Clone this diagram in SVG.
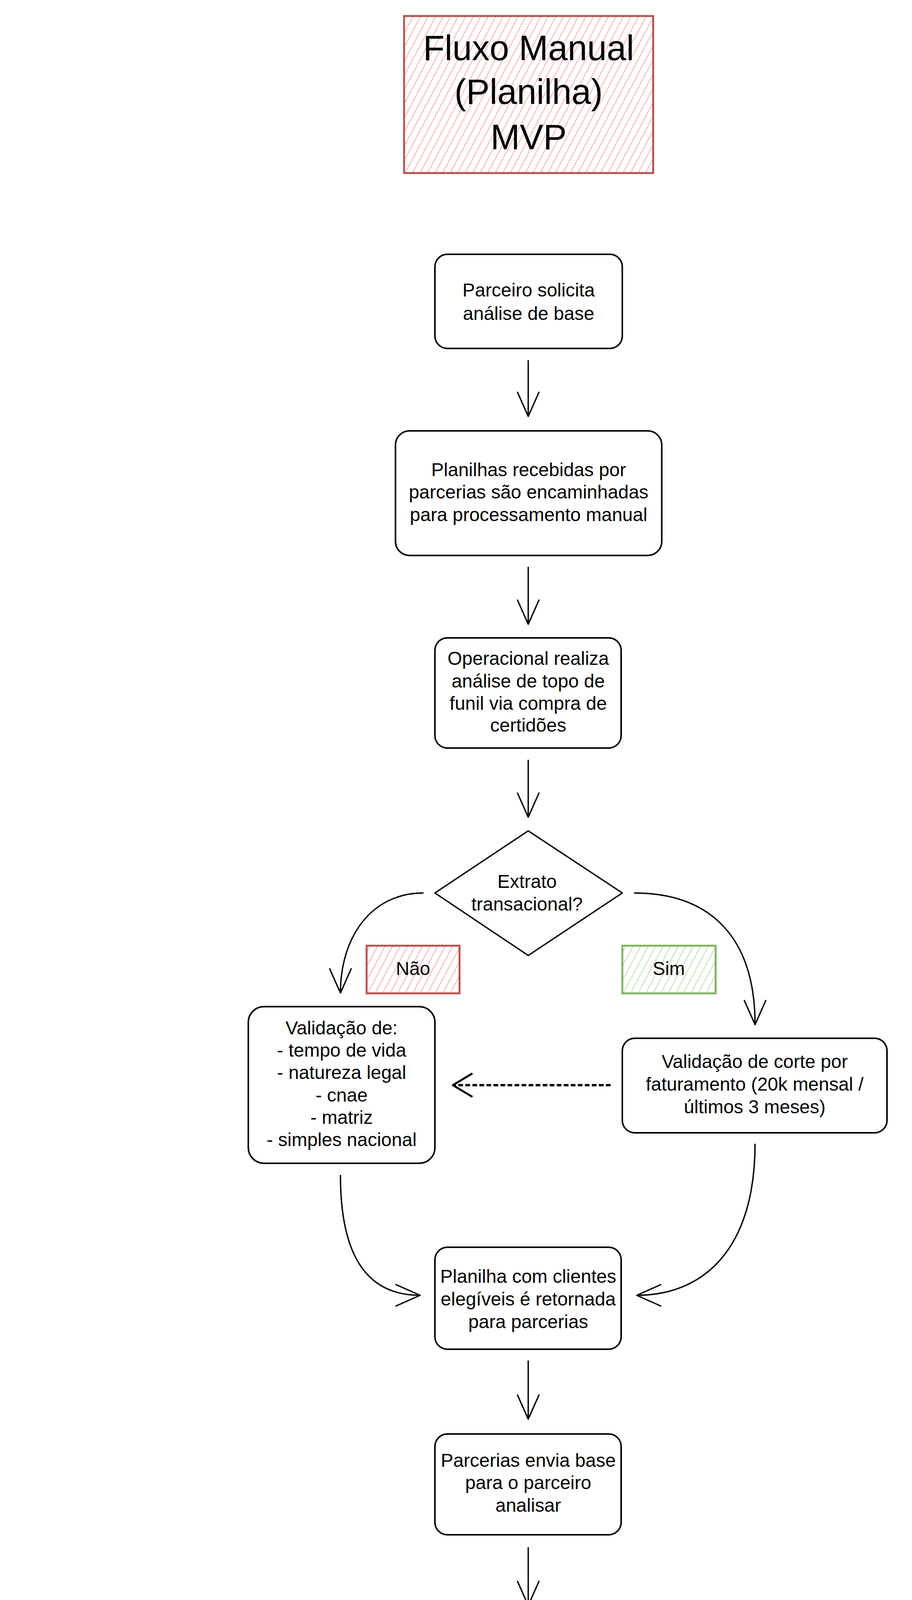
<svg xmlns="http://www.w3.org/2000/svg" width="2336" height="7904" viewBox="0 0 2336 7904">
<style>
.box{fill:#fff;stroke:#000;stroke-width:4;stroke-linejoin:round}
.dia{fill:#fff;stroke:#000;stroke-width:3.5;stroke-linejoin:round}
.t{font-family:"Liberation Sans",Arial,sans-serif;font-size:48px;text-anchor:middle;dominant-baseline:central;fill:#000}
.title{font-size:90px}
.edge{fill:none;stroke:#000;stroke-width:3.5;marker-end:url(#open)}
.dash{fill:none;stroke:#000;stroke-width:6;stroke-dasharray:12 6;marker-end:url(#openb)}
.no{fill:url(#hRed);stroke:#b85450;stroke-width:5}
.yes{fill:url(#hGreen);stroke:#82b366;stroke-width:5}
</style>
<defs>
<pattern id="hRed" patternUnits="userSpaceOnUse" width="17" height="17" patternTransform="rotate(28)">
<rect width="17" height="17" fill="#fff"/>
<line x1="2" y1="0" x2="2" y2="17" stroke="#f5bcb9" stroke-width="2.5"/>
</pattern>
<pattern id="hGreen" patternUnits="userSpaceOnUse" width="17" height="17" patternTransform="rotate(28)">
<rect width="17" height="17" fill="#fff"/>
<line x1="2" y1="0" x2="2" y2="17" stroke="#c4e2bb" stroke-width="2.5"/>
</pattern>
<marker id="open" viewBox="-70 -35 76 70" refX="0" refY="0" markerWidth="76" markerHeight="70" markerUnits="userSpaceOnUse" orient="auto">
<path d="M-63,-28 L0,0 L-63,28" fill="none" stroke="#000" stroke-width="3.5" stroke-linejoin="round"/>
</marker>
<marker id="openb" viewBox="-70 -35 76 70" refX="0" refY="0" markerWidth="76" markerHeight="70" markerUnits="userSpaceOnUse" orient="auto">
<path d="M-50,-30 L0,0 L-50,30" fill="none" stroke="#000" stroke-width="5" stroke-linejoin="round"/>
</marker>
</defs>
<rect width="2336" height="7904" fill="#fff"/>

<g id="connectors">
<path class="edge" d="M1353,922 L1353,1066"/>
<path class="edge" d="M1353,1451 L1353,1598"/>
<path class="edge" d="M1353,1945 L1353,2092"/>
<path class="edge" d="M1085,2286 C950,2286 872,2400 872,2542"/>
<path class="edge" d="M1624,2286 C1820,2286 1934,2400 1934,2623"/>
<path class="dash" d="M1564,2778 L1160,2778"/>
<path class="edge" d="M872,3008 C872,3200 930,3316 1076,3316"/>
<path class="edge" d="M1934,2928 C1934,3200 1800,3316 1631,3316"/>
<path class="edge" d="M1353,3483 L1353,3633"/>
<path class="edge" d="M1353,3961 L1353,4110"/>
<path class="edge" d="M1085,4305 C880,4305 764,4450 764,4645"/>
<path class="edge" d="M1624,4305 C1830,4305 1941,4450 1941,4645"/>
<path class="edge" d="M764,5073 L764,5231"/>
<path class="edge" d="M1941,5073 L1941,5254"/>
<path class="edge" d="M1035,5425 L1567,5425"/>
<path class="edge" d="M492,5425 C380,5425 286,5580 286,5754"/>
<path class="edge" d="M1944,5591 L1944,5778"/>
<path class="edge" d="M1673,5934 C1450,5934 1353,6050 1353,6271"/>
<path class="edge" d="M1162,6466 C960,6466 764,6580 764,6803"/>
<path class="edge" d="M1545,6466 C1760,6466 1944,6580 1944,6803"/>
<path class="edge" d="M764,7068 L764,7215"/>
<path class="edge" d="M1944,7068 L1944,7215"/>
<path class="edge" d="M764,7479 L764,7627"/>
<path class="edge" d="M1944,7479 L1944,7627"/>
</g>

<g id="title">
<rect x="1035" y="41" width="638" height="402" fill="url(#hRed)" stroke="#b85450" stroke-width="5"/>
<text class="t title" x="1354" y="123">Fluxo Manual</text>
<text class="t title" x="1354" y="235">(Planilha)</text>
<text class="t title" x="1354" y="351">MVP</text>
</g>

<g id="n1">
<rect class="box" x="1114" y="651" width="480" height="241" rx="32"/>
<text class="t" x="1354" y="742">Parceiro solicita</text>
<text class="t" x="1354" y="802">análise de base</text>
</g>

<g id="n2">
<rect class="box" x="1013" y="1103" width="682" height="319" rx="36"/>
<text class="t" x="1354" y="1202">Planilhas recebidas por</text>
<text class="t" x="1354" y="1259">parcerias são encaminhadas</text>
<text class="t" x="1354" y="1317">para processamento manual</text>
</g>

<g id="n3">
<rect class="box" x="1114" y="1633" width="477" height="282" rx="32"/>
<text class="t" x="1353" y="1685">Operacional realiza</text>
<text class="t" x="1353" y="1743">análise de topo de</text>
<text class="t" x="1353" y="1800">funil via compra de</text>
<text class="t" x="1353" y="1856">certidões</text>
</g>

<g id="d1">
<polygon class="dia" points="1353,2127 1594,2286 1353,2446 1114,2286"/>
<text class="t" x="1350" y="2256">Extrato</text>
<text class="t" x="1350" y="2314">transacional?</text>
</g>
<g id="l1no">
<rect class="no" x="939" y="2421" width="238" height="122"/>
<text class="t" x="1058" y="2479">Não</text>
</g>
<g id="l1yes">
<rect class="yes" x="1594" y="2421" width="239" height="122"/>
<text class="t" x="1713" y="2479">Sim</text>
</g>

<g id="n4">
<rect class="box" x="636" y="2577" width="478" height="401" rx="40"/>
<text class="t" x="875" y="2631">Validação de:</text>
<text class="t" x="875" y="2688">- tempo de vida</text>
<text class="t" x="875" y="2745">- natureza legal</text>
<text class="t" x="875" y="2803">- cnae</text>
<text class="t" x="875" y="2860">- matriz</text>
<text class="t" x="875" y="2917">- simples nacional</text>
</g>

<g id="n5">
<rect class="box" x="1594" y="2658" width="678" height="242" rx="32"/>
<text class="t" x="1933" y="2717">Validação de corte por</text>
<text class="t" x="1933" y="2775">faturamento (20k mensal /</text>
<text class="t" x="1933" y="2833">últimos 3 meses)</text>
</g>

<g id="n6">
<rect class="box" x="1114" y="3193" width="477" height="261" rx="32"/>
<text class="t" x="1353" y="3267">Planilha com clientes</text>
<text class="t" x="1353" y="3325">elegíveis é retornada</text>
<text class="t" x="1353" y="3383">para parcerias</text>
</g>

<g id="n7">
<rect class="box" x="1114" y="3671" width="477" height="258" rx="32"/>
<text class="t" x="1353" y="3738">Parcerias envia base</text>
<text class="t" x="1353" y="3795">para o parceiro</text>
<text class="t" x="1353" y="3853">analisar</text>
</g>

<g id="d2">
<polygon class="dia" points="1353,4146 1594,4305 1353,4467 1114,4305"/>
<text class="t" x="1350" y="4301">De acordo?</text>
</g>
<g id="l2no">
<rect class="no" x="875" y="4409" width="239" height="122"/>
<text class="t" x="994" y="4470">Não</text>
</g>
<g id="l2yes">
<rect class="yes" x="1594" y="4409" width="239" height="122"/>
<text class="t" x="1713" y="4470">Sim</text>
</g>

<g id="n8">
<rect class="box" x="414" y="4682" width="700" height="360" rx="40"/>
<text class="t" x="764" y="4802">Revisar qualidade da base</text>
<text class="t" x="764" y="4860">analisada e validações</text>
<text class="t" x="764" y="4919">realizadas nas consultas</text>
</g>

<g id="n9">
<rect class="box" x="1594" y="4682" width="700" height="360" rx="40"/>
<text class="t" x="1944" y="4746">Envio de ação segmentada</text>
<text class="t" x="1944" y="4802" xml:space="preserve">para base analisada a fim  de</text>
<text class="t" x="1944" y="4859">converter propostas</text>
<text class="t" x="1944" y="4917">indicativas em leads</text>
<text class="t" x="1944" y="4973">interessados</text>
</g>

<g id="d3">
<polygon class="dia" points="764,5266 1003,5425 764,5586 524,5425"/>
<text class="t" x="760" y="5422">Solucionado?</text>
</g>
<g id="l3yes">
<rect class="yes" x="1013" y="5265" width="241" height="122"/>
<text class="t" x="1133" y="5326">Sim</text>
</g>
<g id="l3no">
<rect class="no" x="355" y="5585" width="238" height="121"/>
<text class="t" x="474" y="5645">Não</text>
</g>

<g id="n10">
<rect class="box" x="1605" y="5290" width="679" height="271" rx="36"/>
<text class="t" x="1944" y="5339">Pricing converte propostas</text>
<text class="t" x="1944" y="5397">indicativas em propostas</text>
<text class="t" x="1944" y="5454">firmes para os leads</text>
<text class="t" x="1944" y="5510">interessados</text>
</g>

<g id="n11">
<rect class="box" x="45" y="5789" width="479" height="142" rx="24"/>
<text class="t" x="284" y="5857">Revisar parceria</text>
</g>

<g id="n12">
<rect class="box" x="1706" y="5815" width="477" height="240" rx="32"/>
<text class="t" x="1944" y="5872">Mesa de Crédito</text>
<text class="t" x="1944" y="5929">valida proposta</text>
<text class="t" x="1944" y="5989">gerada</text>
</g>

<g id="d4">
<polygon class="dia" points="1353,6306 1514,6466 1353,6627 1195,6466"/>
<text class="t" x="1353" y="6461">Aprovada?</text>
</g>
<g id="l4no">
<rect class="no" x="955" y="6531" width="240" height="125"/>
<text class="t" x="1075" y="6590">Não</text>
</g>
<g id="l4yes">
<rect class="yes" x="1514" y="6531" width="241" height="125"/>
<text class="t" x="1634" y="6590">Sim</text>
</g>

<g id="n13">
<rect class="box" x="524" y="6836" width="479" height="202" rx="30"/>
<text class="t" x="764" y="6906">Exibição de negativa</text>
<text class="t" x="764" y="6967">ao cliente</text>
</g>

<g id="n14">
<rect class="box" x="1706" y="6836" width="477" height="202" rx="30"/>
<text class="t" x="1944" y="6906">Exibição de proposta</text>
<text class="t" x="1944" y="6967">ao cliente</text>
</g>

<g id="n15">
<rect class="box" x="524" y="7249" width="479" height="202" rx="30"/>
<text class="t" x="764" y="7319">Email de negativa de</text>
<text class="t" x="764" y="7377">proposta</text>
</g>

<g id="n16">
<rect class="box" x="1706" y="7249" width="477" height="202" rx="30"/>
<text class="t" x="1944" y="7289">Email de</text>
<text class="t" x="1944" y="7347">confirmação de</text>
<text class="t" x="1944" y="7406">proposta</text>
</g>

<g id="n17">
<rect class="box" x="524" y="7662" width="479" height="199" rx="30"/>
<text class="t" x="764" y="7702">Direciona para</text>
<text class="t" x="764" y="7758">página institucional</text>
<text class="t" x="764" y="7817">A55</text>
</g>

<g id="n18">
<rect class="box" x="1706" y="7662" width="477" height="199" rx="30"/>
<text class="t" x="1944" y="7731">Direciona para</text>
<text class="t" x="1944" y="7789">plataforma A55</text>
</g>
</svg>
